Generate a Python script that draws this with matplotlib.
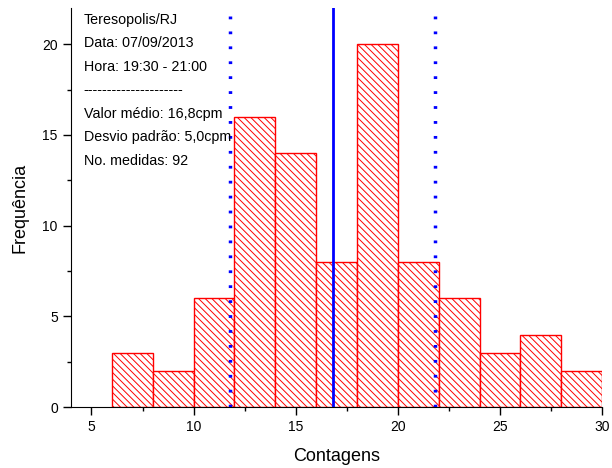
import matplotlib
matplotlib.use('Agg')
import matplotlib.pyplot as plt
import numpy as np

plt.rcParams['font.family'] = ['Liberation Sans', 'DejaVu Sans']
plt.rcParams['hatch.linewidth'] = 0.7

# ==================== 数据 ====================
bin_edges = [6, 8, 10, 12, 14, 16, 18, 20, 22, 24, 26, 28, 30]
freq = [3, 2, 6, 16, 14, 8, 20, 8, 6, 3, 4, 2]
media = 16.8
desvio = 5.0
info_lines = [
    'Teresopolis/RJ',
    'Data: 07/09/2013',
    'Hora: 19:30 - 21:00',
    '---------------------',
    'Valor médio: 16,8cpm',
    'Desvio padrão: 5,0cpm',
    'No. medidas: 92',
]

fig = plt.figure(figsize=(6.12, 4.68), dpi=100)
ax = fig.add_axes([0.116, 0.130, 0.868, 0.853])

lefts = np.array(bin_edges[:-1])
widths = np.diff(bin_edges)
ax.bar(lefts, freq, width=widths, align='edge', facecolor='white',
       edgecolor='red', hatch='\\\\\\\\\\', linewidth=1.0)

ax.axvline(media, ymin=0, ymax=1.0, color='blue', lw=2)
ax.axvline(media - desvio, ymin=0, ymax=0.985, color='blue', lw=2.5, ls=(0, (0.8, 3.5)))
ax.axvline(media + desvio, ymin=0, ymax=0.985, color='blue', lw=2.5, ls=(0, (0.8, 3.5)))

ax.set_xlim(4, 30)
ax.set_ylim(0, 22)
ax.set_xticks([5, 10, 15, 20, 25, 30])
ax.set_xticks(np.arange(7.5, 30, 5), minor=True)
ax.set_yticks([0, 5, 10, 15, 20])
ax.set_yticks([2.5, 7.5, 12.5, 17.5], minor=True)
for s in ['top', 'right']:
    ax.spines[s].set_visible(False)
ax.tick_params(which='major', direction='out', length=6, width=1, labelsize=10)
ax.tick_params(which='minor', direction='out', length=3, width=1)
ax.set_xlabel('Contagens', fontsize=13, labelpad=10)
ax.set_ylabel('Frequência', fontsize=13, labelpad=10)

y0 = 0.970
for i, t in enumerate(info_lines):
    ax.text(0.024, y0 - i * 0.0589, t, transform=ax.transAxes, fontsize=10.3,
            va='center', ha='left')

fig.savefig('out.png', dpi=100)
